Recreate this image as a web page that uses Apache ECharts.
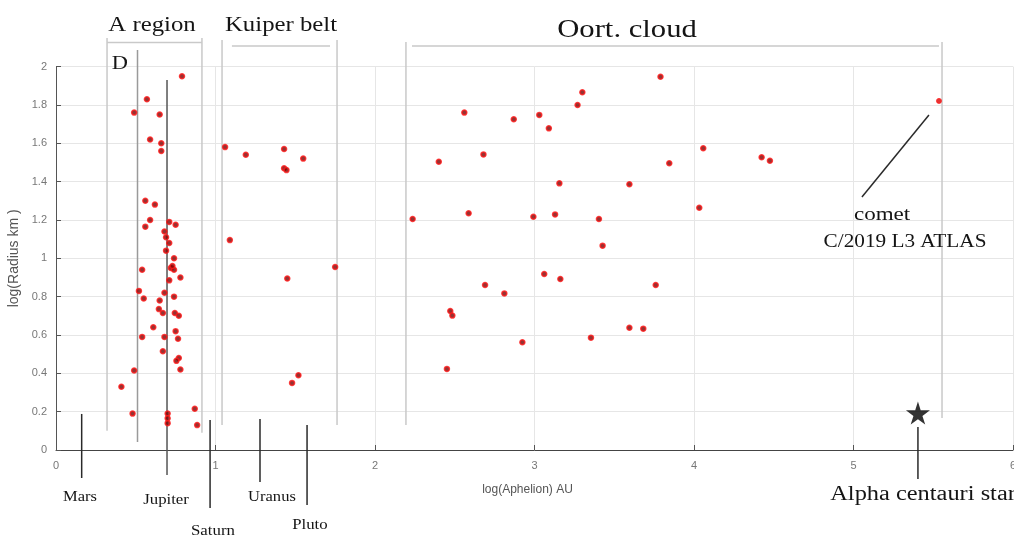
<!DOCTYPE html>
<html>
<head>
<meta charset="utf-8">
<script src="https://cdn.jsdelivr.net/npm/echarts@6/dist/echarts.min.js"></script>
<style>
html,body{margin:0;padding:0;background:#fff;overflow:hidden;}
#c{width:1014px;height:536px;}
</style>
</head>
<body>
<div id="c"></div>
<script>
// ---------- DATA ----------
const xTicks = [0, 1, 2, 3, 4, 5, 6];
const yTicks = [0, 0.2, 0.4, 0.6, 0.8, 1, 1.2, 1.4, 1.6, 1.8, 2];

// [log(Aphelion) AU, log(Radius km)]
const aRegionPoints = [
  [0.79,1.95],[0.57,1.83],[0.49,1.76],[0.65,1.75],[0.59,1.62],[0.66,1.60],[0.66,1.56],
  [0.56,1.30],[0.62,1.28],[0.59,1.20],[0.56,1.165],[0.71,1.19],[0.75,1.175],[0.68,1.14],
  [0.69,1.11],[0.71,1.08],[0.69,1.04],[0.74,1.00],[0.54,0.94],[0.72,0.95],[0.74,0.94],
  [0.73,0.96],[0.78,0.90],[0.71,0.885],[0.52,0.83],[0.55,0.79],[0.68,0.82],[0.74,0.80],
  [0.65,0.78],[0.645,0.735],[0.67,0.715],[0.745,0.715],[0.77,0.70],[0.61,0.64],[0.54,0.59],
  [0.68,0.59],[0.75,0.62],[0.765,0.58],[0.67,0.515],[0.77,0.48],[0.755,0.465],[0.78,0.42],
  [0.49,0.415],[0.41,0.33],[0.48,0.19],[0.87,0.215],[0.70,0.19],[0.70,0.165],[0.70,0.14],
  [0.885,0.13]
];
const kuiperPoints = [
  [1.06,1.58],[1.19,1.54],[1.43,1.57],[1.55,1.52],[1.43,1.47],[1.445,1.46],[1.09,1.095],
  [1.75,0.955],[1.45,0.895],[1.52,0.39],[1.48,0.35]
];
const oortPoints = [
  [3.79,1.947],[3.30,1.866],[3.27,1.80],[2.56,1.76],[2.87,1.725],[3.03,1.748],[3.09,1.678],
  [2.40,1.504],[2.68,1.542],[3.845,1.496],[3.156,1.391],[3.595,1.386],[2.236,1.205],
  [2.587,1.235],[2.993,1.217],[3.129,1.229],[3.404,1.205],[3.427,1.066],[4.058,1.574],
  [4.424,1.527],[4.476,1.509],[4.033,1.264],[3.061,0.918],[3.162,0.892],[2.69,0.861],
  [2.811,0.817],[3.76,0.861],[2.472,0.725],[2.485,0.701],[3.595,0.638],[3.682,0.633],
  [3.354,0.586],[2.924,0.562],[2.451,0.423]
];
const cometPoint = [[5.536,1.821]];
const starPoint = [[5.404,0.193]];

// ---------- ANNOTATIONS (in data coordinates) ----------
// [x1, y1, x2, y2, kind]
const annoLines = [
  [0.32,2.149,0.32,0.10,'light'], [0.915,2.149,0.915,0.09,'light'], [0.32,2.126,0.915,2.126,'light'],
  [0.511,2.087,0.511,0.042,'mid'],
  [0.696,1.93,0.696,-0.13,'dark'],
  [1.041,2.139,1.041,0.13,'light'], [1.762,2.139,1.762,0.13,'light'], [1.103,2.107,1.718,2.107,'light'],
  [2.194,2.128,2.194,0.13,'light'], [5.555,2.128,5.555,0.167,'light'], [2.232,2.107,5.536,2.107,'light'],
  [5.473,1.748,5.053,1.320,'black'],
  [0.161,0.188,0.161,-0.146,'black'], [0.966,0.156,0.966,-0.303,'black'],
  [1.279,0.162,1.279,-0.167,'black'], [1.574,0.13,1.574,-0.287,'black'],
  [5.404,0.12,5.404,-0.151,'black']
];
// [text, x, y, fontSize, scaleX]
const annoTexts = [
  ['A region',0.602,2.217,21,1.18], ['Kuiper belt',1.411,2.217,21,1.18], ['Oort. cloud',3.58,2.19,26,1.18],
  ['D',0.401,2.014,19,1.18],
  ['comet',5.179,1.226,18,1.28], ['C/2019 L3 ATLAS',5.323,1.085,18,1.18],
  ['Mars',0.150,-0.245,14,1.18], ['Jupiter',0.690,-0.261,14,1.2], ['Saturn',0.984,-0.423,14,1.2],
  ['Uranus',1.354,-0.245,14,1.18], ['Pluto',1.592,-0.391,14,1.2],
  ['Alpha centauri star',5.436,-0.235,20,1.22]
];

const lineColors = {light:'#c9c9c9', mid:'#9a9a9a', dark:'#555555', black:'#2a2a2a'};

const chart = echarts.init(document.getElementById('c'), null, {renderer:'canvas', width:1014, height:536});
const dotStyle = {color:'#7a0000', borderColor:'#ff1a1a', borderWidth:1.5};
const starPath = 'path://M50,0 L61,35 L98,35 L68,57 L79,91 L50,70 L21,91 L32,57 L2,35 L39,35 Z';

chart.setOption({
  backgroundColor:'#ffffff',
  animation:false,
  grid:{left:56, right:1, top:66.6, bottom:86, containLabel:false, outerBoundsMode:'none'},
  xAxis:{
    type:'value', min:xTicks[0], max:xTicks[xTicks.length-1], interval:1,
    name:'log(Aphelion) AU', nameLocation:'middle', nameGap:34,
    nameTextStyle:{color:'#555', fontSize:12, fontFamily:'Liberation Sans', padding:[0,14,0,0]},
    axisLine:{show:true, lineStyle:{color:'#444', width:1}},
    axisTick:{show:true, inside:true, length:5, lineStyle:{color:'#555'}},
    axisLabel:{color:'#777', fontSize:11, fontFamily:'Liberation Sans', margin:10},
    splitLine:{show:true, lineStyle:{color:'#e6e6e6', width:1}}
  },
  yAxis:{
    type:'value', min:yTicks[0], max:yTicks[yTicks.length-1], interval:0.2,
    name:'log(Radius km )', nameLocation:'middle', nameGap:31,
    nameTextStyle:{color:'#555', fontSize:14, fontFamily:'Liberation Sans'},
    axisLine:{show:true, lineStyle:{color:'#555', width:1}},
    axisTick:{show:true, inside:true, length:5, lineStyle:{color:'#555'}},
    axisLabel:{color:'#777', fontSize:11, fontFamily:'Liberation Sans', margin:9,
      formatter:function(v){return String(Math.round(v*10)/10);}},
    splitLine:{show:true, lineStyle:{color:'#e6e6e6', width:1}}
  },
  series:[
    {type:'scatter', name:'A region', data:aRegionPoints, symbolSize:5, itemStyle:dotStyle, z:5},
    {type:'scatter', name:'Kuiper belt', data:kuiperPoints, symbolSize:5, itemStyle:dotStyle, z:5},
    {type:'scatter', name:'Oort cloud', data:oortPoints, symbolSize:5, itemStyle:dotStyle, z:5},
    {type:'scatter', name:'comet', data:cometPoint, symbolSize:5, itemStyle:{color:'#e00000', borderColor:'#ff2020', borderWidth:1}, z:5},
    {type:'scatter', name:'Alpha centauri', data:starPoint, symbol:starPath, symbolSize:[24,23], itemStyle:{color:'#000'}, z:6}
  ]
});

function P(x,y){ return chart.convertToPixel({xAxisIndex:0, yAxisIndex:0}, [x,y]); }
const g = [];
annoLines.forEach(function(l){
  const a = P(l[0],l[1]), b = P(l[2],l[3]);
  g.push({type:'line', silent:true, z:3,
    shape:{x1:a[0], y1:a[1], x2:b[0], y2:b[1]},
    style:{stroke:lineColors[l[4]], lineWidth:1.5}});
});
annoTexts.forEach(function(t){
  const p = P(t[1],t[2]);
  g.push({type:'text', silent:true, z:7, x:p[0], y:p[1], scaleX:t[4],
    style:{text:t[0], fill:'#141414', font: t[3]+'px "Liberation Serif"',
      fontFamily:'Liberation Serif', fontSize:t[3],
      align:'center', verticalAlign:'middle', textAlign:'center', textVerticalAlign:'middle'}});
});
chart.setOption({graphic:g});
</script>
</body>
</html>
